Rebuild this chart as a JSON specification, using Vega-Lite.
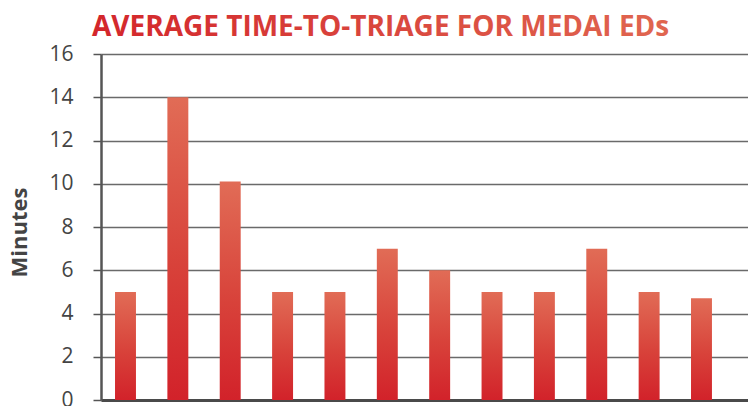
{
  "$schema": "https://vega.github.io/schema/vega-lite/v6.json",
  "width": 647,
  "height": 346,
  "autosize": {"type": "none"},
  "padding": {"left": 101, "top": 54, "right": 0, "bottom": 6},
  "background": "white",
  "title": {
    "text": "AVERAGE TIME-TO-TRIAGE FOR MEDAI EDs",
    "anchor": "start",
    "frame": "group",
    "dx": -9,
    "dy": 1,
    "offset": 2,
    "font": "Open Sans",
    "fontSize": 28,
    "fontWeight": "bold",
    "color": {"expr": "{gradient: 'linear', x1: 0, y1: 0, x2: 1, y2: 0, stops: [{offset: 0, color: '#d3262b'}, {offset: 1, color: '#e06650'}]}"}
  },
  "data": {
    "values": [
      {"ed": "ED 1", "minutes": 5},
      {"ed": "ED 2", "minutes": 14},
      {"ed": "ED 3", "minutes": 10.1},
      {"ed": "ED 4", "minutes": 5},
      {"ed": "ED 5", "minutes": 5},
      {"ed": "ED 6", "minutes": 7},
      {"ed": "ED 7", "minutes": 6},
      {"ed": "ED 8", "minutes": 5},
      {"ed": "ED 9", "minutes": 5},
      {"ed": "ED 10", "minutes": 7},
      {"ed": "ED 11", "minutes": 5},
      {"ed": "ED 12", "minutes": 4.7}
    ]
  },
  "mark": {
    "type": "bar",
    "fill": {
      "gradient": "linear",
      "x1": 0, "y1": 0, "x2": 0, "y2": 1,
      "stops": [
        {"offset": 0, "color": "#e16c56"},
        {"offset": 0.55, "color": "#d8423a"},
        {"offset": 1, "color": "#d2222a"}
      ]
    }
  },
  "encoding": {
    "x": {
      "field": "ed",
      "type": "nominal",
      "sort": null,
      "scale": {"paddingInner": 0.6, "paddingOuter": 0.478, "align": 0.28},
      "axis": {
        "labels": false,
        "ticks": false,
        "title": null,
        "domain": true,
        "domainColor": "#4a4a4a",
        "domainWidth": 3
      }
    },
    "y": {
      "field": "minutes",
      "type": "quantitative",
      "scale": {"domain": [0, 16], "nice": false},
      "axis": {
        "values": [0, 2, 4, 6, 8, 10, 12, 14, 16],
        "title": "Minutes",
        "titleFont": "Open Sans",
        "titleFontSize": 22,
        "titleFontWeight": "bold",
        "titleColor": "#444444",
        "titlePadding": 17,
        "titleY": 178,
        "labelFont": "Open Sans",
        "labelFontSize": 21,
        "labelColor": "#444444",
        "labelPadding": 20,
        "tickSize": 8,
        "tickColor": "#555555",
        "tickWidth": 1.5,
        "domainColor": "#555555",
        "domainWidth": 2.5,
        "grid": true,
        "gridColor": "#6a6a6a",
        "gridWidth": 1.6
      }
    }
  },
  "config": {
    "view": {"stroke": null},
    "axis": {"labelBound": false}
  }
}
